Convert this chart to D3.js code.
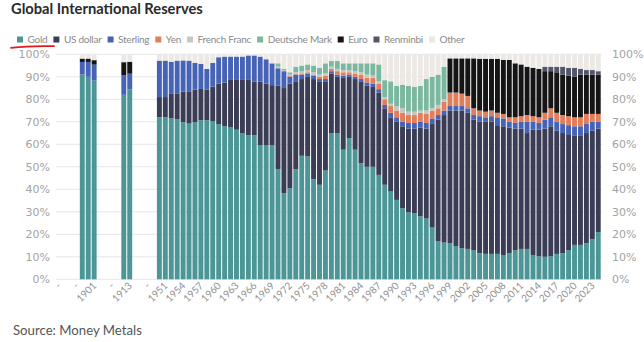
<!DOCTYPE html>
<html><head><meta charset="utf-8">
<script src="https://cdn.jsdelivr.net/npm/d3@7/dist/d3.min.js"></script>
<style>body{margin:0;background:#fff;} svg{display:block;font-family:Lato,'Open Sans',sans-serif;}</style>
</head><body><svg id="c" width="644" height="342"></svg>
<script>
// x-axis categories (spacers shown as "-")
const categories = ["-","-","-","-","1899","1900","1901","-","-","-","-","1912","1913","-","-","-","-",
"1950","1951","1952","1953","1954","1955","1956","1957","1958","1959","1960","1961","1962","1963","1964","1965","1966","1967","1968","1969",
"1970","1971","1972","1973","1974","1975","1976","1977","1978","1979","1980","1981","1982","1983","1984","1985","1986","1987","1988","1989",
"1990","1991","1992","1993","1994","1995","1996","1997","1998","1999","2000","2001","2002","2003","2004","2005","2006","2007","2008","2009",
"2010","2011","2012","2013","2014","2015","2016","2017","2018","2019","2020","2021","2022","2023","2024"];
const years = ["1899","1900","1901","1912","1913",
"1950","1951","1952","1953","1954","1955","1956","1957","1958","1959","1960","1961","1962","1963","1964","1965","1966","1967","1968","1969",
"1970","1971","1972","1973","1974","1975","1976","1977","1978","1979","1980","1981","1982","1983","1984","1985","1986","1987","1988","1989",
"1990","1991","1992","1993","1994","1995","1996","1997","1998","1999","2000","2001","2002","2003","2004","2005","2006","2007","2008","2009",
"2010","2011","2012","2013","2014","2015","2016","2017","2018","2019","2020","2021","2022","2023","2024"];
const seriesNames = ["Gold","US dollar","Sterling","Yen","French Franc","Deutsche Mark","Euro","Renminbi","Other"];
const seriesColors = ["#4d9697","#3b3d56","#4763b6","#e27f5a","#c8c6c0","#7cb8a0","#151515","#53566a","#ece9e5"];
const yTicks = [0,10,20,30,40,50,60,70,80,90,100];

// shares (%) per year, same order as `years`
const gold = [91,90,88.3,82,84.3,
72,72,71.6,71.2,69.8,69.2,69.9,70.7,70.7,70.2,69,68,67.5,66.5,65,64,64,59.7,59.7,59.7,
49,38.3,40.5,48.9,54.9,54.6,44.5,42,48.3,65,65,57.6,62.8,57.6,51.6,50,50,46.4,42,39,
35.3,31.6,29.7,29.4,28,27,23,17,16.3,16,14.8,13.8,13.5,13,11.6,11.3,11.3,11.3,10.8,11.6,
13,13.5,13.5,10.8,10.3,10,10.3,11.3,11.6,13,15.3,15.3,16,17.8,21];
const usDollar = [0,0,0,0,0,
9,9,10.8,11.2,13.6,14.1,14.4,13.9,13.6,15.5,18,19.4,21.1,22.1,23.6,24.9,23.8,28.1,27.3,26.6,
37,46.7,46.5,39.1,34.1,35.4,44.5,46,39.7,26.5,25,31.9,27.2,31.4,36.4,36,35.5,36.6,34,33,
34.7,36.4,37.3,37.6,39.5,40,46,54,56.7,59,60.2,61.2,60.5,58,58.4,58.7,58.7,57.2,57.2,55.9,
54,53.5,51.5,55.7,56.2,57,57.7,54.7,53.4,51.5,48.7,48.7,49,48.2,46];
const sterling = [5.6,6.6,7.1,8.7,7.1,
16.2,16.2,14.3,14.8,13.9,13.9,11.9,11.2,9.2,10.5,11.7,11.6,10.4,10.4,10.4,10.6,11.7,11.2,10.8,9.7,
7.8,7.5,3,3,2,1.5,1.5,1,1,1,1,1,1,1,1,1.5,1.5,1.5,1.5,2,
2,2,2.5,2.5,2.5,2.5,2.5,2,2,2,2,2,2,2,2.5,2,2.5,3.5,3.5,2.5,
2.5,3,5,3.5,3,4,4,4,4,4,4,4,4,4,3];
const yen = [0,0,0,0,0,
0,0,0,0,0,0,0,0,0,0,0,0,0,0,0,0,0,0,0,0,
0,0,0.3,0.3,0.5,0.5,0.5,1,1.5,1,1.5,1.5,1,1.5,2,2,2.5,2.5,2.5,3,
3,4,3.5,3.5,4,4,3.5,3,4,6,6,5.5,5.5,3,2.5,2.5,2.5,2,2,2,
2.5,2.5,3,2.5,2.5,3,4,4,4,4,4,4,4.5,3.5,3.5];
const frenchFranc = [0,0,0,0,0,
0,0,0,0,0,0,0,0,0,0,0,0,0,0,0,0,0,0,0,0,
0.7,0.5,0.7,0.7,1,1,1,1,1,1,1,1,1,1,1,1.5,1,1,1,1,
2,2,1.5,1.5,1,1.5,1,1.5,1,0,0,0,0,0,0,0,0,0,0,0,
0,0,0,0,0,0,0,0,0,0,0,0,0,0,0];
const deutscheMark = [0,0,0,0,0,
0,0,0,0,0,0,0,0,0,0,0,0,0,0,0,0,0,0,0,0,
1.5,0.5,1,2.5,2.5,2.5,3,3,4.5,2.5,3.5,3,3,3.5,4,5,5.5,7.5,7.5,10,
9,10.5,11.5,11,11,14,14,13.5,14.5,0,0,0,0,0,0,0,0,0,0,0,
0,0,0,0,0,0,0,0,0,0,0,0,0,0,0];
const euro = [1.5,1.5,2,5.8,5.3,
0,0,0,0,0,0,0,0,0,0,0,0,0,0,0,0,0,0,0,0,
0,0,0,0,0,0,0,0,0,0,0,0,0,0,0,0,0,0,0,0,
0,0,0,0,0,0,0,0,0,15.2,15.2,15.7,16.7,22.2,23,23.5,23,24,24,25.5,
24,23,21.5,21.5,21.5,18.5,16.5,18,18,18,18,19,17.5,17.5,17.5];
const renminbi = [0,0,0,0,0,
0,0,0,0,0,0,0,0,0,0,0,0,0,0,0,0,0,0,0,0,
0,0,0,0,0,0,0,0,0,0,0,0,0,0,0,0,0,0,0,0,
0,0,0,0,0,0,0,0,0,0,0,0,0,0,0,0,0,0,0,0,
0,0,0,0,0,2,2,2.5,3.5,3.5,4,2.5,2,2,1.5];
const seriesValues = [gold,usDollar,sterling,yen,frenchFranc,deutscheMark,euro,renminbi];

// rows for stacking; "Other" fills to 100%
const rows = categories.map((c,i) => {
  const r = {idx:i};
  const yi = (i >= 4) ? years.indexOf(c) : -1;
  let sum = 0;
  seriesNames.forEach((n,k) => {
    if (k < seriesValues.length) { const v = yi >= 0 ? seriesValues[k][yi] : 0; r[n] = v; sum += v; }
  });
  r["Other"] = yi >= 0 ? Math.max(0, 100 - sum) : 0;
  return r;
});

const svg = d3.select("#c");
const x = d3.scaleBand().domain(d3.range(categories.length)).range([56.1, 600.7]).paddingInner(0.17).paddingOuter(0);
const y = d3.scaleLinear().domain([0,100]).range([279.3, 54.3]);

// gridlines
svg.append("g").selectAll("line").data(yTicks).join("line")
  .attr("x1",56).attr("x2",602).attr("y1",d=>y(d)).attr("y2",d=>y(d))
  .attr("stroke","#e6e6e6").attr("stroke-width",1);

// bars
const stack = d3.stack().keys(seriesNames)(rows);
const color = d3.scaleOrdinal().domain(seriesNames).range(seriesColors);
svg.append("g").selectAll("g").data(stack).join("g").attr("fill", d=>color(d.key))
  .selectAll("rect").data(d=>d.filter(p=>p[1]-p[0]>0)).join("rect")
  .attr("x", d=>x(d.data.idx)).attr("width", x.bandwidth())
  .attr("y", d=>y(d[1])).attr("height", d=>y(d[0])-y(d[1]));

// y axes
const fmt = d => d + "%";
const yl = svg.append("g").attr("transform","translate(56,0)")
  .call(d3.axisLeft(y).tickValues(yTicks).tickFormat(fmt).tickSize(0).tickPadding(6));
const yr = svg.append("g").attr("transform","translate(602,0)")
  .call(d3.axisRight(y).tickValues(yTicks).tickFormat(fmt).tickSize(0).tickPadding(10));
[yl,yr].forEach(g=>{ g.select(".domain").remove();
  g.selectAll("text").attr("fill","#a3a3a3").style("font-size","11px").style("font-family","'DejaVu Sans',sans-serif"); });

// x axis
const xa = svg.append("g").attr("transform",`translate(0,${y(0)})`)
  .call(d3.axisBottom(x).tickValues(d3.range(0,categories.length,3)).tickFormat(i=>categories[i]).tickSize(0));
xa.select(".domain").remove();
xa.selectAll("text").attr("y",0).attr("dy",0).attr("x",0)
  .attr("transform","translate(3,7) rotate(-45)").attr("text-anchor","end")
  .attr("fill","#8f8f8f").style("font-size","10px").style("font-family","Lato,'Open Sans',sans-serif");

// title
svg.append("text").attr("x",11).attr("y",14).text("Global International Reserves")
  .attr("fill","#2a2a2a").style("font-size","14.7px").style("font-weight","700");

// legend
const lg = svg.append("g").attr("transform","translate(17,0)");
let lx = 0;
seriesNames.forEach((n,i)=>{
  const g = lg.append("g").attr("transform",`translate(${lx},0)`);
  g.append("rect").attr("x",0).attr("y",36.5).attr("width",6).attr("height",6).attr("fill",seriesColors[i]);
  const t = g.append("text").attr("x",10.5).attr("y",43).text(n).attr("fill","#8a8a8a")
    .style("font-size","10px").style("letter-spacing","-0.25px");
  lx += 10.5 + t.node().getComputedTextLength() + 6;
});
// red hand-drawn underline
svg.append("path").attr("d","M11,47.8 Q30,45.6 54,46.2").attr("fill","none").attr("stroke","#e01b1b").attr("stroke-width",1.8).attr("stroke-linecap","round");

// source
svg.append("text").attr("x",13).attr("y",335).text("Source: Money Metals")
  .attr("fill","#555").style("font-size","13.2px");
</script></body></html>
